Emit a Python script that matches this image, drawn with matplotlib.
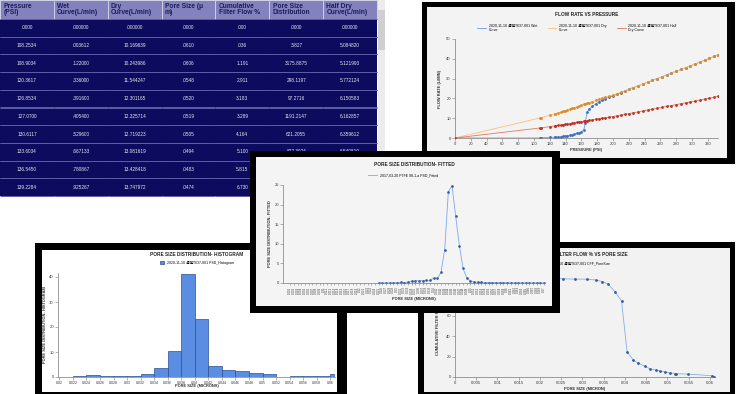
import numpy as np
import matplotlib.pyplot as plt
from matplotlib.patches import Rectangle

plt.rcParams['font.family'] = ['Liberation Sans', 'Noto Sans CJK TC']

# ---- data table ----
table_headers = ['Pressure\n(PSI)', 'Wet\nCurve(L/min)', 'Dry\nCurve(L/min)', 'Pore Size (μ\nm)',
                 'Cumulative\nFilter Flow %', 'Pore Size\nDistribution', 'Half Dry\nCurve(L/min)']
table_rows = [
    ['.0000', '.000000', '.000000', '.0000', '.000', '.0000', '.000000'],
    ['108.2534', '.003612', '10.169639', '.0610', '.036', '.5827', '5.084820'],
    ['108.9034', '.122000', '10.243986', '.0606', '1.191', '3175.8875', '5.121993'],
    ['120.3617', '.336000', '11.544247', '.0548', '2.911', '298.1197', '5.772124'],
    ['126.8534', '.391600', '12.301165', '.0520', '3.183', '97.2716', '6.150583'],
    ['127.0700', '.405400', '12.325714', '.0519', '3.289', '1191.2147', '6.162857'],
    ['130.6117', '.529600', '12.719223', '.0505', '4.164', '621.2055', '6.359612'],
    ['133.6034', '.667133', '13.081619', '.0494', '5.100', '827.3024', '6.540810'],
    ['136.5450', '.780867', '13.428418', '.0483', '5.815', '536.1877', '6.714209'],
    ['139.2284', '.925267', '13.747972', '.0474', '6.730', '721.5620', '6.873986'],
]

# ---- flow rate vs pressure ----
pressure = [0, 108.2534, 108.9034, 120.3617, 126.8534, 127.07, 130.6117, 133.6034, 136.545, 139.2284,
            142, 145, 148, 151, 154, 157, 160, 163, 165, 167, 170, 174, 178, 182, 186, 190, 195, 200,
            205, 210, 215, 220, 226, 232, 238, 244, 250, 256, 262, 268, 274, 280, 286, 292, 298, 304,
            310, 316, 322, 328, 333]
wet_curve = [0, 0.003612, 0.122, 0.336, 0.3916, 0.4054, 0.5296, 0.667133, 0.780867, 0.925267,
             1.1, 1.3, 1.6, 1.9, 2.3, 2.7, 3.0, 4.0, 7.5, 13.0, 14.5, 16.0, 17.2, 18.2, 19.0, 19.8,
             20.6, 21.3, 22.1, 22.9, 23.7, 24.6, 25.5, 26.4, 27.3, 28.2, 29.1, 30.0, 30.9, 31.9, 32.8,
             33.7, 34.6, 35.5, 36.4, 37.4, 38.3, 39.3, 40.2, 41.2, 42.0]
dry_curve = [0, 10.169639, 10.243986, 11.544247, 12.301165, 12.325714, 12.719223, 13.081619, 13.428418,
             13.747972, 14.1, 14.5, 14.9, 15.3, 15.7, 16.1, 16.5, 17.0, 17.2, 17.5, 17.9, 18.4, 19.0,
             19.5, 20.0, 20.5, 21.1, 21.7, 22.4, 23.1, 23.8, 24.6, 25.5, 26.4, 27.3, 28.2, 29.1, 30.0,
             30.9, 31.9, 32.8, 33.7, 34.6, 35.5, 36.4, 37.4, 38.3, 39.3, 40.2, 41.2, 42.0]
half_dry = [0, 5.08482, 5.121993, 5.772124, 6.150583, 6.162857, 6.359612, 6.54081, 6.714209, 6.873986,
            7.05, 7.25, 7.45, 7.65, 7.85, 8.05, 8.25, 8.5, 8.6, 8.75, 8.95, 9.2, 9.5, 9.75, 10.0, 10.25,
            10.55, 10.85, 11.2, 11.55, 11.9, 12.3, 12.75, 13.2, 13.65, 14.1, 14.55, 15.0, 15.45, 15.95,
            16.4, 16.85, 17.3, 17.75, 18.2, 18.7, 19.15, 19.65, 20.1, 20.6, 21.0]
flow_labels = ['2020-11-10 濾膜T637-001 Wet\nCurve', '2020-11-10 濾膜T637-001 Dry\nCurve',
               '2020-11-10 濾膜T637-001 Half\nDry Curve']

# ---- pore size distribution fitted ----
fit_labels = [f'{0.001 * (k + 1):g}' for k in range(70)]
fit_vals = [0.0, 0.0, 0.02, 0.05, 0.05, 0.1, 0.15, 0.1, 0.2, 0.5, 0.55, 0.6, 0.6, 0.65, 0.7, 1.2, 1.2,
            2.7, 8.5, 23.3, 24.8, 17.0, 9.5, 3.7, 1.3, 0.5, 0.3, 0.2, 0.15, 0.12, 0.1, 0.1, 0.1, 0.08,
            0.08, 0.08, 0.06, 0.06, 0.05, 0.05, 0.05, 0.04, 0.04, 0.03, 0.03, 0.02]

# ---- histogram ----
hist_edges = [0.020, 0.022, 0.024, 0.026, 0.028, 0.030, 0.032, 0.034, 0.036, 0.038, 0.040,
              0.042, 0.044, 0.046, 0.048, 0.050, 0.052, 0.054, 0.056, 0.058, 0.060]
hist_vals = [0.2, 0.6, 0.8, 0.5, 0.3, 0.5, 1.2, 3.8, 10.3, 41.3, 23.3, 4.6, 2.8, 2.5, 1.5, 1.3,
             0.2, 0.5, 0.5, 0.5, 1.3]
hist_ticks = [0.02, 0.022, 0.024, 0.026, 0.028, 0.03, 0.032, 0.034, 0.036, 0.038, 0.04, 0.042,
              0.044, 0.046, 0.048, 0.05, 0.052, 0.054, 0.056, 0.058, 0.06]

# ---- cumulative filter flow ----
cff_pore = [0.0150, 0.0200, 0.0230, 0.0255, 0.0282, 0.0310, 0.0333, 0.0347, 0.0360, 0.0376, 0.0392,
            0.0405, 0.0420, 0.0431, 0.0447, 0.0459, 0.0474, 0.0483, 0.0494, 0.0505, 0.0519, 0.0520,
            0.0548, 0.0606, 0.0610]
cff_flow = [97.2, 97.0, 96.8, 96.3, 96.0, 95.9, 95.0, 93.5, 91.3, 83.8, 74.6, 24.6, 16.5, 13.8, 10.6,
            8.0, 6.73, 5.815, 5.1, 4.164, 3.289, 3.183, 2.911, 1.191, 0.036]
cff_ticks = [0, 0.005, 0.01, 0.015, 0.02, 0.025, 0.03, 0.035, 0.04, 0.045, 0.05, 0.055, 0.06]

W, H = 736, 394
fig = plt.figure(figsize=(W / 100, H / 100), dpi=100)


def box(x0, y0, x1, y1):
    return [x0 / W, 1 - y1 / H, (x1 - x0) / W, (y1 - y0) / H]


def panel(x0, y0, x1, y1, inner, z, edge=(6, 6, 6, 6)):
    fa = fig.add_axes(box(x0, y0, x1, y1))
    fa.set_facecolor('black')
    fa.set_xticks([])
    fa.set_yticks([])
    for s in fa.spines.values():
        s.set_visible(False)
    fa.set_xlim(x0, x1)
    fa.set_ylim(y1, y0)
    l, t, r, b = edge
    fa.add_patch(Rectangle((x0 + l, y0 + t), x1 - x0 - l - r, y1 - y0 - t - b,
                           facecolor=inner, edgecolor='none'))
    fa.set_zorder(z)


def chart(bx, z):
    ax = fig.add_axes(box(*bx))
    ax.set_facecolor('none')
    ax.set_zorder(z + 0.1)
    ax.spines[['top', 'right']].set_visible(False)
    for s in ('left', 'bottom'):
        ax.spines[s].set_color('#7a7a7a')
        ax.spines[s].set_linewidth(0.5)
    ax.tick_params(labelsize=3, length=2, width=0.4, color='#7a7a7a', labelcolor='#333333', pad=1)
    return ax


def frac(bx, x, y):
    return (x - bx[0]) / (bx[2] - bx[0]), (bx[3] - y) / (bx[3] - bx[1])


def labels(ax, bx, title, ty, xl, xly, yl, ylx, tcx=None):
    tcx = (bx[0] + bx[2]) / 2 if tcx is None else tcx
    ax.text(*frac(bx, tcx, ty), title, transform=ax.transAxes, ha='center',
            va='center', fontsize=3.4, fontweight='bold', color='#222222')
    ax.text(*frac(bx, (bx[0] + bx[2]) / 2, xly), xl, transform=ax.transAxes, ha='center',
            va='center', fontsize=2.9, fontweight='bold', color='#333333')
    ax.text(*frac(bx, ylx, (bx[1] + bx[3]) / 2), yl, transform=ax.transAxes, ha='center',
            va='center', rotation=90, fontsize=2.9, fontweight='bold', color='#333333')


# ---- table ----
ta = fig.add_axes(box(0, 0, 377, 196))
ta.axis('off')
ta.set_xlim(0, 1)
ta.set_ylim(0, 1)
ta.set_zorder(0)
ta.add_patch(Rectangle((0, 0), 1, 177 / 196, facecolor='#0c0b5e', edgecolor='none', zorder=0))
tb = ta.table(cellText=table_rows, colLabels=table_headers, bbox=[0, 0, 1, 1],
              cellLoc='center', colLoc='left')
tb.set_zorder(2)
tb.auto_set_font_size(False)
for (r, c), cell in tb.get_celld().items():
    cell.set_width(1)
    if r == 0:
        cell.set_height(19)
        cell.set_facecolor('#8482bc')
        cell.set_edgecolor('#d4d4ea')
        cell.set_linewidth(0.6)
        cell.PAD = 0.06
        cell.get_text().set(fontsize=4.8, fontweight='bold', color='#1c1c5e', linespacing=1.0)
    else:
        cell.set_height(17.7)
        cell.set_facecolor('#0c0b5e')
        cell.set_edgecolor('#5c5ca8')
        cell.set_linewidth(0.7)
        cell.visible_edges = 'horizontal'
        cell.get_text().set(fontsize=3.4, color='#e6e6f2')

fig.add_artist(Rectangle((378 / W, 1 - 152 / H), 7 / W, 152 / H, transform=fig.transFigure,
                         facecolor='#ececec', edgecolor='none', zorder=0.5))
fig.add_artist(Rectangle((378 / W, 1 - 50 / H), 7 / W, 40 / H, transform=fig.transFigure,
                         facecolor='#cfcfcf', edgecolor='none', zorder=0.5))

# ---- flow rate vs pressure ----
panel(422, 2, 735, 164, '#f3f3f3', 1, edge=(5, 5, 8, 6))
fb = (455, 39, 718, 138)
ax = chart(fb, 1)
ax.plot(pressure, wet_curve, color='#6d9de6', lw=0.6, marker='o', ms=1.0, mfc='#3d6fc0',
        mec='#3d6fc0', label=flow_labels[0], zorder=2)
ax.plot(pressure, dry_curve, color='#f6c27c', lw=0.6, marker='o', ms=1.0, mfc='#e08a20',
        mec='#e08a20', label=flow_labels[1], zorder=3)
ax.plot(pressure, half_dry, color='#e0785e', lw=0.6, marker='o', ms=1.0, mfc='#c03020',
        mec='#c03020', label=flow_labels[2], zorder=3)
ax.set_xlim(0, 333)
ax.set_ylim(0, 50)
ax.set_xticks(range(0, 321, 20))
ax.set_yticks(range(0, 51, 10))
labels(ax, fb, 'FLOW RATE VS PRESSURE', 14, 'PRESSURE (PSI)', 150, 'FLOW RATE (L/MIN)', 440)
ax.legend(loc='center', bbox_to_anchor=frac(fb, 577, 28), ncol=3, frameon=False, fontsize=2.5,
          handlelength=2.5, columnspacing=3, markerscale=0)

# ---- histogram ----
panel(35, 243, 347, 396, 'white', 1, edge=(7, 7, 10, 4))
hb = (58, 273, 335, 377)
ax = chart(hb, 1)
ax.bar(hist_edges, hist_vals, width=0.002, align='edge', color='#5b8ee2', edgecolor='#2b4f92',
       linewidth=0.5, label='2020-11-10 濾膜T637-001 PSD_Histogram')
ax.set_xlim(0.0198, 0.0607)
ax.set_ylim(0, 41.6)
ax.set_xticks(hist_ticks)
ax.set_xticklabels([f'{t:g}' for t in hist_ticks])
ax.set_yticks(range(0, 41, 10))
ax.tick_params(axis='x', labelsize=2.5)
labels(ax, hb, 'PORE SIZE DISTRIBUTION- HISTOGRAM', 255, 'PORE SIZE (MICRONS)', 386,
       'PORE SIZE DISTRIBUTION- HISTOGRAM', 45, tcx=197)
ax.legend(loc='center', bbox_to_anchor=frac(hb, 197, 263), frameon=False, fontsize=2.5,
          handlelength=1.0, handleheight=1.0)

# ---- cumulative filter flow ----
panel(418, 242, 735, 396, '#f2f2f2', 1, edge=(6, 6, 5, 4))
cb = (455, 275, 715, 377)
ax = chart(cb, 1)
ax.plot(cff_pore, cff_flow, color='#86aee8', lw=0.6, marker='o', ms=1.0, mfc='#3a5a9a',
        mec='#3a5a9a', label='2020-11-10 濾膜T637-001 CFF_PoreSize')
ax.set_xlim(0, 0.0612)
ax.set_ylim(0, 100)
ax.set_xticks(cff_ticks)
ax.set_xticklabels([f'{t:g}' for t in cff_ticks])
ax.set_yticks(range(0, 101, 20))
labels(ax, cb, 'CUMULATIVE FILTER FLOW % VS PORE SIZE', 254, 'PORE SIZE (MICRON)', 389,
       'CUMULATIVE FILTER FLOW %', 438, tcx=575)
ax.legend(loc='center', bbox_to_anchor=frac(cb, 572, 263), frameon=False, fontsize=2.5,
          handlelength=2.5, markerscale=0)

# ---- pore size distribution fitted (on top) ----
panel(250, 151, 560, 313, '#f4f4f4', 3, edge=(6, 6, 8, 7))
pb = (283, 185, 545, 283)
ax = chart(pb, 3)
fit_pos = np.arange(len(fit_labels))[-len(fit_vals):]
ax.plot(fit_pos, fit_vals, color='#7ea8ea', lw=0.6, marker='o', ms=0.9, mfc='#3a5a9a',
        mec='#3a5a9a', label='2017-03-20 PTFE 98-1-a PSD_Fitted')
ax.set_xlim(-2, 69.3)
ax.set_ylim(0, 25)
ax.set_xticks(range(len(fit_labels)))
ax.set_xticklabels(fit_labels, rotation=90)
ax.tick_params(axis='x', labelsize=2.0, length=1.5)
ax.set_yticks(range(0, 26, 5))
labels(ax, pb, 'PORE SIZE DISTRIBUTION- FITTED', 164, 'PORE SIZE (MICRONS)', 299,
       'PORE SIZE DISTRIBUTION- FITTED', 270)
ax.legend(loc='center', bbox_to_anchor=frac(pb, 403, 175), frameon=False, fontsize=2.5,
          handlelength=2.5, markerscale=0)

fig.savefig('out.png', dpi=100, facecolor='white')
